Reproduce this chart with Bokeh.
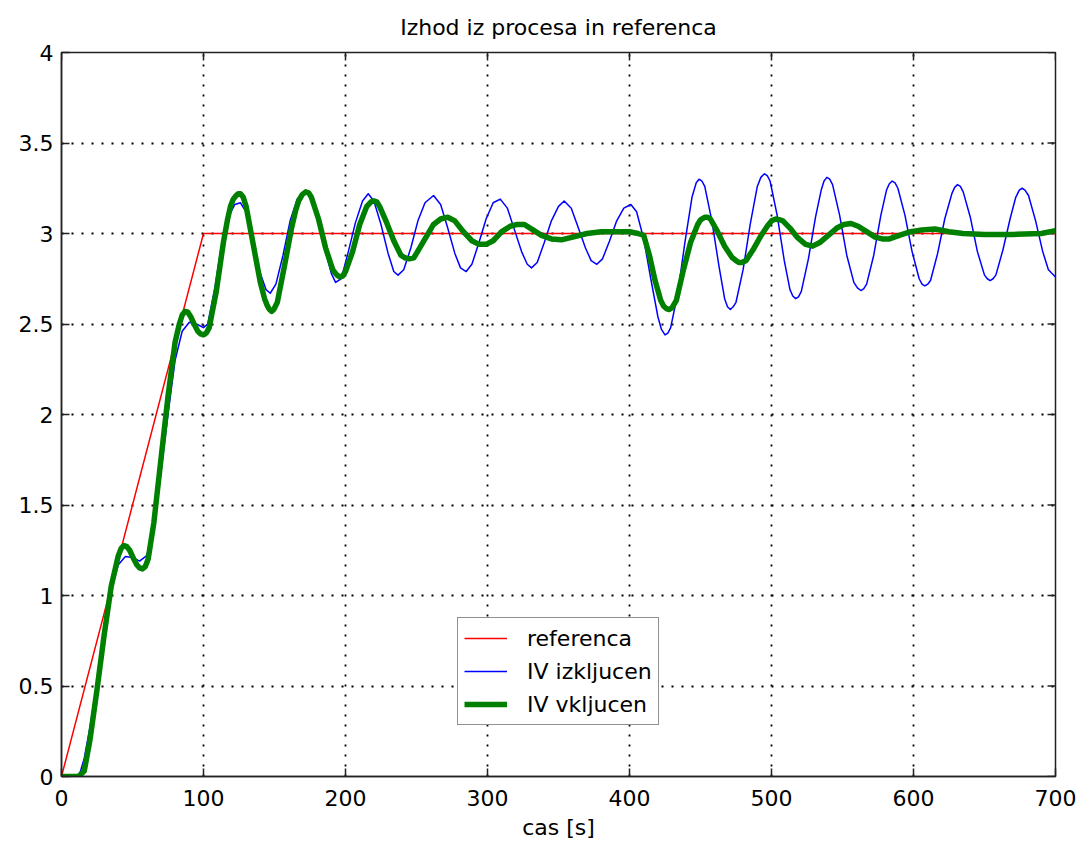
import math
from bokeh.plotting import figure
from bokeh.models import Range1d, LinearAxis, FixedTicker, Legend, LegendItem
from bokeh.embed import file_html
from bokeh.resources import INLINE

title_text = "Izhod iz procesa in referenca"
x_label = "cas [s]"
x_ticks = [0, 100, 200, 300, 400, 500, 600, 700]
y_ticks = [0, 0.5, 1, 1.5, 2, 2.5, 3, 3.5, 4]
y_tick_labels = ["0", "0.5", "1", "1.5", "2", "2.5", "3", "3.5", "4"]
series_names = ["referenca", "IV izkljucen", "IV vkljucen"]

ref_t = [0, 100, 700]
ref_y = [0, 3, 3]

off_t = [0, 10, 13, 16, 20, 25, 30, 35, 40, 45, 50, 55, 60, 65, 70, 75, 80, 85, 90, 95, 100,
         103, 108, 113, 118, 122, 126, 130, 135, 140, 144, 147, 151, 156, 161, 166, 171, 175,
         180, 185, 190, 193, 197, 202, 207, 212, 216, 220, 225, 230, 234, 237, 241, 246, 251,
         256, 262, 267, 272, 277, 281, 285, 289, 294, 299, 304, 309, 314, 319, 324, 328, 331,
         335, 340, 345, 350, 354, 359, 364, 369, 373, 377, 381, 386, 391, 396, 401, 405, 410,
         415, 420, 422.5, 425, 427, 429, 434, 439, 444, 447, 449, 451, 453, 458, 463, 467, 469,
         471, 473, 475, 480, 485, 490, 492.5,
         495, 497, 499, 504, 509, 513, 515, 517, 519, 521, 526, 531, 535, 537, 539, 541, 543,
         548, 553, 558, 560.5, 563, 565, 567,
         572, 577, 581, 583, 585, 587, 589, 594, 599, 604, 606, 608, 610, 612, 617, 622, 627,
         629, 631, 633, 635, 640, 645,
         650, 652, 654, 656, 658, 663, 668, 672, 674.5, 676.5, 678.5, 681, 686, 691, 695, 700]
off_y = [0, 0, 0.02, 0.1, 0.27, 0.52, 0.8, 1.03, 1.17, 1.215, 1.21, 1.19, 1.22, 1.38, 1.68, 2.0,
         2.3, 2.46, 2.51, 2.5, 2.48,
         2.5, 2.7, 2.95, 3.1, 3.16, 3.17, 3.12, 2.95, 2.78, 2.69, 2.67, 2.72, 2.88, 3.07, 3.19,
         3.23, 3.21,
         3.1, 2.93, 2.78, 2.73, 2.75, 2.9, 3.06, 3.18, 3.22, 3.18, 3.05, 2.89, 2.79, 2.77, 2.8,
         2.92, 3.07,
         3.17, 3.21, 3.16, 3.03, 2.89, 2.81, 2.79, 2.83, 2.95, 3.08, 3.17, 3.19, 3.14, 3.02, 2.9,
         2.83, 2.81,
         2.84, 2.95, 3.07, 3.15, 3.18, 3.14, 3.03, 2.92, 2.85, 2.83, 2.86, 2.96, 3.07, 3.14,
         3.16, 3.12, 2.97,
         2.75, 2.54, 2.47, 2.44, 2.45, 2.48, 2.67, 2.95, 3.2, 3.28, 3.30, 3.29, 3.26, 3.07, 2.82,
         2.64, 2.595, 2.58, 2.595, 2.62, 2.8, 3.05, 3.26, 3.31,
         3.33, 3.32, 3.29, 3.1, 2.85, 2.69, 2.655, 2.64, 2.65, 2.68, 2.86, 3.09, 3.24, 3.29,
         3.31, 3.30, 3.27, 3.1, 2.88, 2.73, 2.70, 2.685, 2.695, 2.72,
         2.88, 3.1, 3.24, 3.275, 3.29, 3.28, 3.25, 3.1, 2.9, 2.75, 2.72, 2.71, 2.72, 2.74, 2.89,
         3.08, 3.22, 3.255, 3.27, 3.26, 3.23, 3.09, 2.9,
         2.77, 2.75, 2.74, 2.75, 2.77, 2.91, 3.08, 3.2, 3.24, 3.25, 3.24, 3.21, 3.07, 2.9, 2.8,
         2.76]

on_t = [0, 12, 16, 20, 25, 30, 35, 40, 42, 44, 46, 48, 51, 53, 55, 57, 59, 61, 65, 70, 75, 80,
        83, 85, 87, 89, 91, 94, 96, 98, 100, 102,
        104, 109, 114, 117, 119, 121, 123, 124.5, 126, 128, 130, 135, 140, 143, 145, 146.5,
        148, 149.5, 152, 157, 162, 165, 167, 169.5, 172, 174, 176,
        181, 186, 191, 194, 196, 198, 200, 205, 210, 215, 218, 220, 222, 224, 229, 234, 239,
        242, 245, 248, 250, 256, 262,
        267, 272, 277, 283, 289, 294, 299, 304, 310, 316, 321, 326, 332, 338, 345, 352, 360,
        370, 380, 390, 400, 406, 410, 414, 418, 422, 424, 426, 428, 430, 433, 438, 443, 448,
        450, 453, 455, 457,
        462, 467, 472, 475, 477, 479, 482, 487, 492, 497, 500, 503, 506, 508, 513, 518, 524,
        529, 534, 540, 546,
        551, 556, 561, 567, 573, 578, 583, 590, 598, 606, 615, 625, 635, 650, 670, 690, 700]
on_y = [0, 0, 0.03, 0.2, 0.48, 0.78, 1.05, 1.22, 1.26, 1.276, 1.27, 1.25, 1.2, 1.17, 1.152,
        1.147, 1.16, 1.2, 1.4, 1.75, 2.1, 2.4,
        2.5, 2.55, 2.57, 2.565, 2.54, 2.49, 2.46, 2.445, 2.44, 2.45,
        2.48, 2.68, 2.95, 3.08, 3.15, 3.19, 3.21, 3.22, 3.22, 3.2, 3.15, 2.94, 2.73, 2.64, 2.6,
        2.58, 2.57, 2.58, 2.62, 2.82, 3.03, 3.13, 3.18, 3.215,
        3.23, 3.225, 3.2,
        3.08, 2.92, 2.8, 2.77, 2.76, 2.765, 2.79, 2.9, 3.05, 3.15, 3.175, 3.18, 3.175, 3.15,
        3.06, 2.96, 2.88,
        2.865, 2.86, 2.865, 2.89, 2.97, 3.05,
        3.08, 3.09, 3.07, 3.01, 2.96, 2.94, 2.94, 2.96, 3.01, 3.04, 3.05, 3.05, 3.02, 2.99, 2.97,
        2.965, 2.98,
        3.0, 3.01, 3.01, 3.01, 3.0, 2.99, 2.88, 2.74, 2.63, 2.6, 2.585, 2.58, 2.59, 2.63, 2.8,
        2.95, 3.05,
        3.075, 3.09, 3.09, 3.08,
        3.01, 2.93, 2.87, 2.85, 2.84, 2.84, 2.85, 2.91, 2.98, 3.04, 3.07, 3.08, 3.075, 3.07,
        3.03, 2.98, 2.94,
        2.93, 2.95, 2.99, 3.03,
        3.05, 3.055, 3.04, 3.01, 2.98, 2.97, 2.97, 2.99, 3.01, 3.02, 3.025, 3.01, 3.0, 2.995,
        2.995, 3.0, 3.016]

FONT = "DejaVu Sans"
FS = "22px"
AX_COLOR = "#222222"

p = figure(width=1084, height=849, output_backend="svg", toolbar_location=None,
           x_range=Range1d(0, 700), y_range=Range1d(0, 4),
           min_border_left=61, min_border_right=29, min_border_top=52, min_border_bottom=73,
           x_axis_location=None, y_axis_location=None)
p.background_fill_color = "white"
p.border_fill_color = "white"
p.outline_line_color = AX_COLOR
p.outline_line_width = 1.5

p.title.text = title_text
p.title.align = "center"
p.title.text_font = FONT
p.title.text_font_size = FS
p.title.text_font_style = "normal"
p.title.text_color = "black"
p.title.standoff = 25


def make_axis(ticks, label=None):
    ax = LinearAxis(ticker=FixedTicker(ticks=ticks))
    ax.axis_line_color = AX_COLOR
    ax.axis_line_width = 1.5
    ax.major_tick_in = 8
    ax.major_tick_out = 0
    ax.major_tick_line_color = AX_COLOR
    ax.major_tick_line_width = 1.5
    ax.minor_tick_line_color = None
    ax.major_label_text_font = FONT
    ax.major_label_text_font_size = FS
    ax.major_label_text_color = "black"
    if label:
        ax.axis_label = label
        ax.axis_label_text_font = FONT
        ax.axis_label_text_font_size = FS
        ax.axis_label_text_font_style = "normal"
        ax.axis_label_text_color = "black"
    return ax


xb = make_axis(x_ticks, x_label)
xb.major_label_standoff = 13
xb.axis_label_standoff = 6
p.add_layout(xb, "below")

yl = make_axis(y_ticks)
yl.major_label_overrides = {t: s for t, s in zip(y_ticks, y_tick_labels)}
yl.major_label_standoff = 8
p.add_layout(yl, "left")

# inward ticks on the top and right frame edges (MATLAB box style)
p.ray(x=x_ticks, y=[4] * len(x_ticks), length=8, angle=-math.pi / 2,
      length_units="screen", line_color=AX_COLOR, line_width=1.5)
p.ray(x=[700] * len(y_ticks), y=y_ticks, length=8, angle=math.pi,
      length_units="screen", line_color=AX_COLOR, line_width=1.5)

p.xgrid.ticker = FixedTicker(ticks=x_ticks)
p.ygrid.ticker = FixedTicker(ticks=y_ticks)
for g in (p.xgrid, p.ygrid):
    g.grid_line_color = "black"
    g.grid_line_width = 1.8
    g.grid_line_dash = "2 8"

r_ref = p.line(ref_t, ref_y, line_color="#ff0000", line_width=1.5)
r_off = p.line(off_t, off_y, line_color="#0000ff", line_width=1.5, line_join="round")
r_on = p.line(on_t, on_y, line_color="#008000", line_width=5.5, line_join="round")

legend = Legend(items=[LegendItem(label=series_names[0], renderers=[r_ref]),
                       LegendItem(label=series_names[1], renderers=[r_off]),
                       LegendItem(label=series_names[2], renderers=[r_on])],
                location=(396, 51))
legend.label_text_font = FONT
legend.label_text_font_size = FS
legend.label_text_color = "black"
legend.glyph_width = 43
legend.glyph_height = 28
legend.label_height = 28
legend.label_standoff = 20
legend.spacing = 5
legend.padding = 6
legend.margin = 0
legend.border_line_color = AX_COLOR
legend.border_line_width = 1.5
legend.background_fill_color = "white"
legend.background_fill_alpha = 1.0
p.add_layout(legend, "center")

open("out.html", "w").write(file_html(p, INLINE))
